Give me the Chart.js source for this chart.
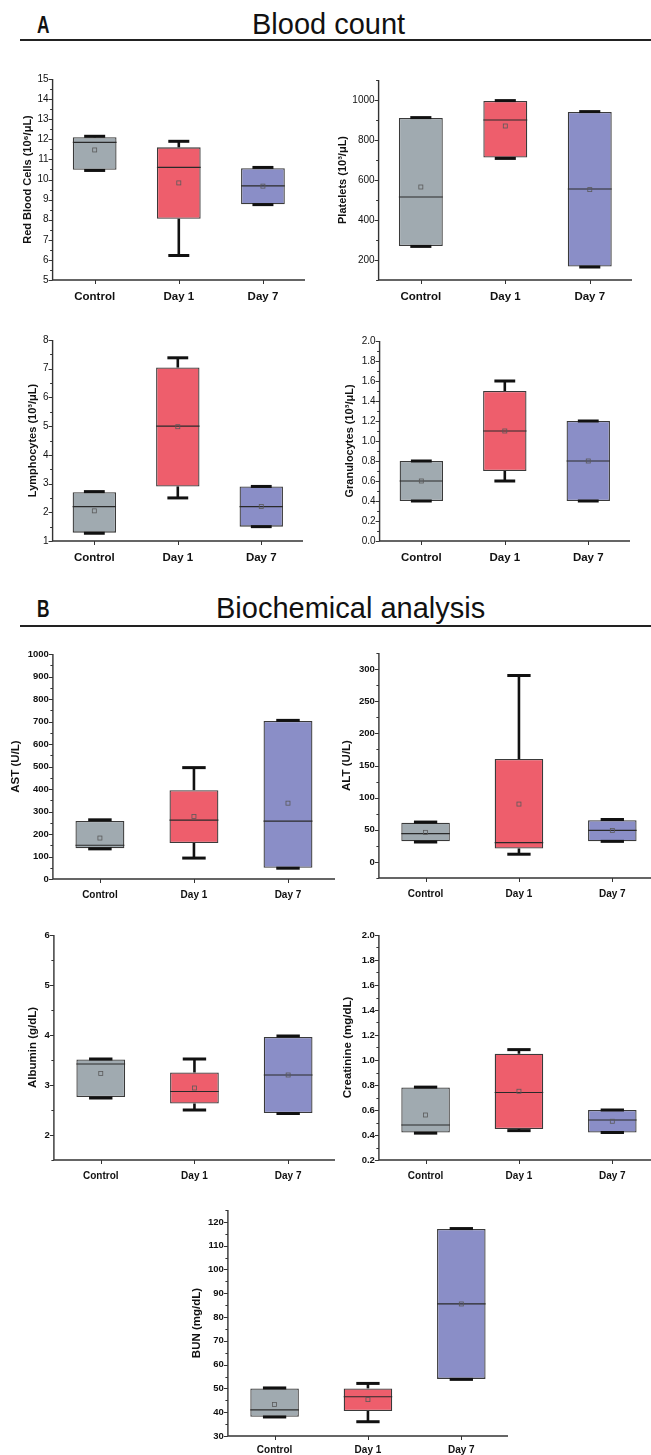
<!DOCTYPE html>
<html><head><meta charset="utf-8">
<script src="https://cdn.jsdelivr.net/npm/chart.js@4.4.1/dist/chart.umd.min.js"></script>
<style>
html,body{margin:0;padding:0;background:#fff;}
body{width:651px;height:1455px;overflow:hidden;position:relative;font-family:'Liberation Sans',Arial,sans-serif;}
.hdr{position:absolute;color:#111;white-space:nowrap;transform-origin:left top;}
.rule{position:absolute;left:20px;width:631px;height:2px;background:#222;}
canvas{position:absolute;}
</style></head><body>
<div class="hdr" style="left:37px;top:13px;font-size:24px;line-height:24px;font-weight:bold;transform:scaleX(0.72)">A</div>
<div class="hdr" style="left:252px;top:9.5px;font-size:29px;line-height:29px;">Blood count</div>
<div class="rule" style="top:39px"></div>
<div class="hdr" style="left:37px;top:597px;font-size:24px;line-height:24px;font-weight:bold;transform:scaleX(0.72)">B</div>
<div class="hdr" style="left:216px;top:593.5px;font-size:29px;line-height:29px;">Biochemical analysis</div>
<div class="rule" style="top:625px"></div>
<script>
// ---------- data ----------
const categories = ['Control', 'Day 1', 'Day 7'];
const boxColors = ['#a0aab0', '#ee5e6c', '#8a8ec7'];

const rbcLow = [10.45, 6.22, 8.75];
const rbcQ1 = [10.48, 8.05, 8.77];
const rbcMedian = [11.85, 10.6, 9.68];
const rbcQ3 = [12.1, 11.6, 10.56];
const rbcHigh = [12.15, 11.9, 10.6];
const rbcMean = [11.47, 9.83, 9.67];

const pltLow = [268, 708, 165];
const pltQ1 = [270, 712, 167];
const pltMedian = [515, 900, 555];
const pltQ3 = [910, 995, 940];
const pltHigh = [912, 997, 942];
const pltMean = [565, 870, 552];

const lymLow = [1.27, 2.5, 1.5];
const lymQ1 = [1.29, 2.9, 1.5];
const lymMedian = [2.2, 5.0, 2.2];
const lymQ3 = [2.7, 7.04, 2.9];
const lymHigh = [2.72, 7.38, 2.9];
const lymMean = [2.05, 4.98, 2.2];

const graLow = [0.4, 0.6, 0.4];
const graQ1 = [0.4, 0.7, 0.4];
const graMedian = [0.6, 1.1, 0.8];
const graQ3 = [0.8, 1.5, 1.2];
const graHigh = [0.8, 1.6, 1.2];
const graMean = [0.6, 1.1, 0.8];

const astLow = [134, 93, 48];
const astQ1 = [137, 160, 50];
const astMedian = [150, 262, 257];
const astQ3 = [258, 395, 702];
const astHigh = [263, 495, 705];
const astMean = [182, 278, 337];

const altLow = [31, 12, 32];
const altQ1 = [32, 21, 32];
const altMedian = [44, 30, 49];
const altQ3 = [61, 160, 65];
const altHigh = [62, 290, 66];
const altMean = [46, 90, 49];

const albLow = [2.74, 2.5, 2.43];
const albQ1 = [2.76, 2.63, 2.44];
const albMedian = [3.42, 2.87, 3.2];
const albQ3 = [3.51, 3.25, 3.96];
const albHigh = [3.52, 3.52, 3.98];
const albMean = [3.23, 2.94, 3.2];

const creLow = [0.415, 0.435, 0.42];
const creQ1 = [0.42, 0.448, 0.42];
const creMedian = [0.48, 0.74, 0.52];
const creQ3 = [0.78, 1.05, 0.6];
const creHigh = [0.783, 1.083, 0.6];
const creMean = [0.56, 0.75, 0.51];

const bunLow = [38, 36, 53.8];
const bunQ1 = [38.1, 40.5, 54];
const bunMedian = [41, 46.5, 85.5];
const bunQ3 = [50, 50, 117];
const bunHigh = [50.2, 52.1, 117.2];
const bunMean = [43.2, 45.3, 85.5];

// ---------- drawing ----------
function makeBoxPlugin(p, isMajor) {
  return {
    id: 'boxPlugin',
    afterDatasetsDraw(chart) {
      const ctx = chart.ctx, x = chart.scales.x, y = chart.scales.y;
      const meta = chart.getDatasetMeta(0);
      ctx.save();
      categories.forEach((c, i) => {
        const bar = meta.data[i];
        const cx = x.getPixelForValue(i);
        const bw = bar.width;
        const capHalf = bw * 0.24;
        const yq1 = y.getPixelForValue(p.q1[i]), yq3 = y.getPixelForValue(p.q3[i]);
        const ylo = y.getPixelForValue(p.low[i]), yhi = y.getPixelForValue(p.high[i]);
        const ymed = y.getPixelForValue(p.median[i]), ymean = y.getPixelForValue(p.mean[i]);
        ctx.strokeStyle = '#111';
        ctx.lineWidth = 2.6;
        ctx.lineCap = 'butt';
        if (yq3 - yhi > 1) { ctx.beginPath(); ctx.moveTo(cx, yq3); ctx.lineTo(cx, yhi); ctx.stroke(); }
        if (ylo - yq1 > 1) { ctx.beginPath(); ctx.moveTo(cx, yq1); ctx.lineTo(cx, ylo); ctx.stroke(); }
        ctx.lineWidth = 3;
        ctx.beginPath(); ctx.moveTo(cx - capHalf, yhi); ctx.lineTo(cx + capHalf, yhi); ctx.stroke();
        ctx.beginPath(); ctx.moveTo(cx - capHalf, ylo); ctx.lineTo(cx + capHalf, ylo); ctx.stroke();
        ctx.strokeStyle = '#2a2a2a';
        ctx.lineWidth = 1.2;
        ctx.beginPath(); ctx.moveTo(cx - bw / 2, ymed); ctx.lineTo(cx + bw / 2, ymed); ctx.stroke();
        ctx.strokeStyle = '#5a5a5a';
        ctx.lineWidth = 0.8;
        ctx.strokeRect(cx - 2, ymean - 2, 4, 4);
      });
      const a = chart.chartArea;
      ctx.strokeStyle = '#333';
      ctx.lineWidth = 1.4;
      ctx.beginPath(); ctx.moveTo(a.left, a.top); ctx.lineTo(a.left, a.bottom); ctx.lineTo(a.right, a.bottom); ctx.stroke();
      ctx.lineWidth = 1;
      y.ticks.forEach(t => {
        const py = Math.round(y.getPixelForValue(t.value)) + 0.5;
        const len = isMajor(t.value) ? 4 : 2.5;
        ctx.beginPath(); ctx.moveTo(a.left, py); ctx.lineTo(a.left - len, py); ctx.stroke();
      });
      categories.forEach((c, i) => {
        const px = Math.round(x.getPixelForValue(i)) + 0.5;
        ctx.beginPath(); ctx.moveTo(px, a.bottom); ctx.lineTo(px, a.bottom + 4); ctx.stroke();
      });
      ctx.restore();
    }
  };
}

function makePanel(p) {
  const lh = p.titleSize * 1.2;
  const left = p.titleX - lh / 2;
  const top = p.axisTop - 10;
  const width = Math.round(p.axisRight - left + 4);
  const height = Math.round(p.axisBottom - top + 28);
  const cv = document.createElement('canvas');
  cv.width = width; cv.height = height;
  cv.style.left = left + 'px'; cv.style.top = top + 'px';
  cv.style.width = width + 'px'; cv.style.height = height + 'px';
  document.body.appendChild(cv);
  const eps = p.minor / 1000;
  const isMajor = v => Math.abs(v / p.major - Math.round(v / p.major)) < 1e-6;
  const tickVals = [];
  for (let v = p.min; v <= p.max + eps; v += p.minor) tickVals.push(Math.round(v / p.minor) * p.minor);
  const yW = p.axisX - left;
  new Chart(cv, {
    type: 'bar',
    data: {
      labels: categories,
      datasets: [{
        data: categories.map((c, i) => [p.q1[i], p.q3[i]]),
        backgroundColor: boxColors,
        borderColor: '#3a3a3a',
        borderWidth: 1.3,
        borderSkipped: false,
        barPercentage: 0.52,
        categoryPercentage: 1
      }]
    },
    options: {
      responsive: false, animation: false, devicePixelRatio: 1,
      layout: { padding: { top: 10, right: 4, left: 0, bottom: 0 } },
      plugins: { legend: { display: false }, tooltip: { enabled: false } },
      scales: {
        x: {
          type: 'category', offset: true,
          grid: { display: false, drawTicks: false }, border: { display: false },
          ticks: { color: '#111', padding: p.xPad, maxRotation: 0, autoSkip: false,
                   font: { family: 'Liberation Sans', size: p.xSize, weight: 'bold' } },
          afterFit: s => { s.height = 28; }
        },
        y: {
          type: 'linear', min: p.min, max: p.max,
          grid: { display: false, drawTicks: false }, border: { display: false },
          afterBuildTicks: s => { s.ticks = tickVals.map(v => ({ value: v })); },
          ticks: {
            color: '#111', padding: 4, autoSkip: false,
            font: { family: 'Liberation Sans', size: p.tickSize, weight: p.tickBold ? 'bold' : 'normal' },
            callback: (v) => isMajor(v) ? Number(v).toFixed(p.decimals) : ''
          },
          title: { display: true, text: p.title, color: '#111', padding: 0,
                   font: { family: 'Liberation Sans', size: p.titleSize, weight: 'bold' } },
          afterFit: s => { s.width = yW; }
        }
      }
    },
    plugins: [makeBoxPlugin(p, isMajor)]
  });
}

const topStyle = { titleSize: 11, xSize: 11.5, xPad: 10, tickBold: false, tickSize: 10 };
const botStyle = { titleSize: 11.5, xSize: 10, xPad: 10, tickBold: true, tickSize: 9.5 };

makePanel(Object.assign({}, topStyle, { title: 'Red Blood Cells (10\u2076/\u03bcL)', titleX: 28,
  axisX: 53, axisTop: 79, axisBottom: 280, axisRight: 305, min: 5, max: 15, major: 1, minor: 0.5, decimals: 0,
  low: rbcLow, q1: rbcQ1, median: rbcMedian, q3: rbcQ3, high: rbcHigh, mean: rbcMean }));
makePanel(Object.assign({}, topStyle, { title: 'Platelets (10\u00b3/\u03bcL)', titleX: 343,
  axisX: 379, axisTop: 80, axisBottom: 280, axisRight: 632, min: 100, max: 1100, major: 200, minor: 100, decimals: 0,
  low: pltLow, q1: pltQ1, median: pltMedian, q3: pltQ3, high: pltHigh, mean: pltMean }));
makePanel(Object.assign({}, topStyle, { title: 'Lymphocytes (10\u00b3/\u03bcL)', titleX: 33,
  axisX: 53, axisTop: 340, axisBottom: 541, axisRight: 303, min: 1, max: 8, major: 1, minor: 0.5, decimals: 0,
  low: lymLow, q1: lymQ1, median: lymMedian, q3: lymQ3, high: lymHigh, mean: lymMean }));
makePanel(Object.assign({}, topStyle, { title: 'Granulocytes (10\u00b3/\u03bcL)', titleX: 350,
  axisX: 380, axisTop: 341, axisBottom: 541, axisRight: 630, min: 0, max: 2, major: 0.2, minor: 0.1, decimals: 1,
  low: graLow, q1: graQ1, median: graMedian, q3: graQ3, high: graHigh, mean: graMean }));
makePanel(Object.assign({}, botStyle, { title: 'AST (U/L)', titleX: 16,
  axisX: 53, axisTop: 654, axisBottom: 879, axisRight: 335, min: 0, max: 1000, major: 100, minor: 50, decimals: 0,
  low: astLow, q1: astQ1, median: astMedian, q3: astQ3, high: astHigh, mean: astMean }));
makePanel(Object.assign({}, botStyle, { title: 'ALT (U/L)', titleX: 347,
  axisX: 379, axisTop: 653, axisBottom: 878, axisRight: 659, min: -25, max: 325, major: 50, minor: 25, decimals: 0,
  low: altLow, q1: altQ1, median: altMedian, q3: altQ3, high: altHigh, mean: altMean }));
makePanel(Object.assign({}, botStyle, { title: 'Albumin (g/dL)', titleX: 33,
  axisX: 54, axisTop: 935, axisBottom: 1160, axisRight: 335, min: 1.5, max: 6, major: 1, minor: 0.5, decimals: 0,
  low: albLow, q1: albQ1, median: albMedian, q3: albQ3, high: albHigh, mean: albMean }));
makePanel(Object.assign({}, botStyle, { title: 'Creatinine (mg/dL)', titleX: 348,
  axisX: 379, axisTop: 935, axisBottom: 1160, axisRight: 659, min: 0.2, max: 2.0, major: 0.2, minor: 0.1, decimals: 1,
  low: creLow, q1: creQ1, median: creMedian, q3: creQ3, high: creHigh, mean: creMean }));
makePanel(Object.assign({}, botStyle, { title: 'BUN (mg/dL)', titleX: 197, xPad: 8,
  axisX: 228, axisTop: 1210, axisBottom: 1436, axisRight: 508, min: 30, max: 125, major: 10, minor: 5, decimals: 0,
  low: bunLow, q1: bunQ1, median: bunMedian, q3: bunQ3, high: bunHigh, mean: bunMean }));
</script>
</body></html>
